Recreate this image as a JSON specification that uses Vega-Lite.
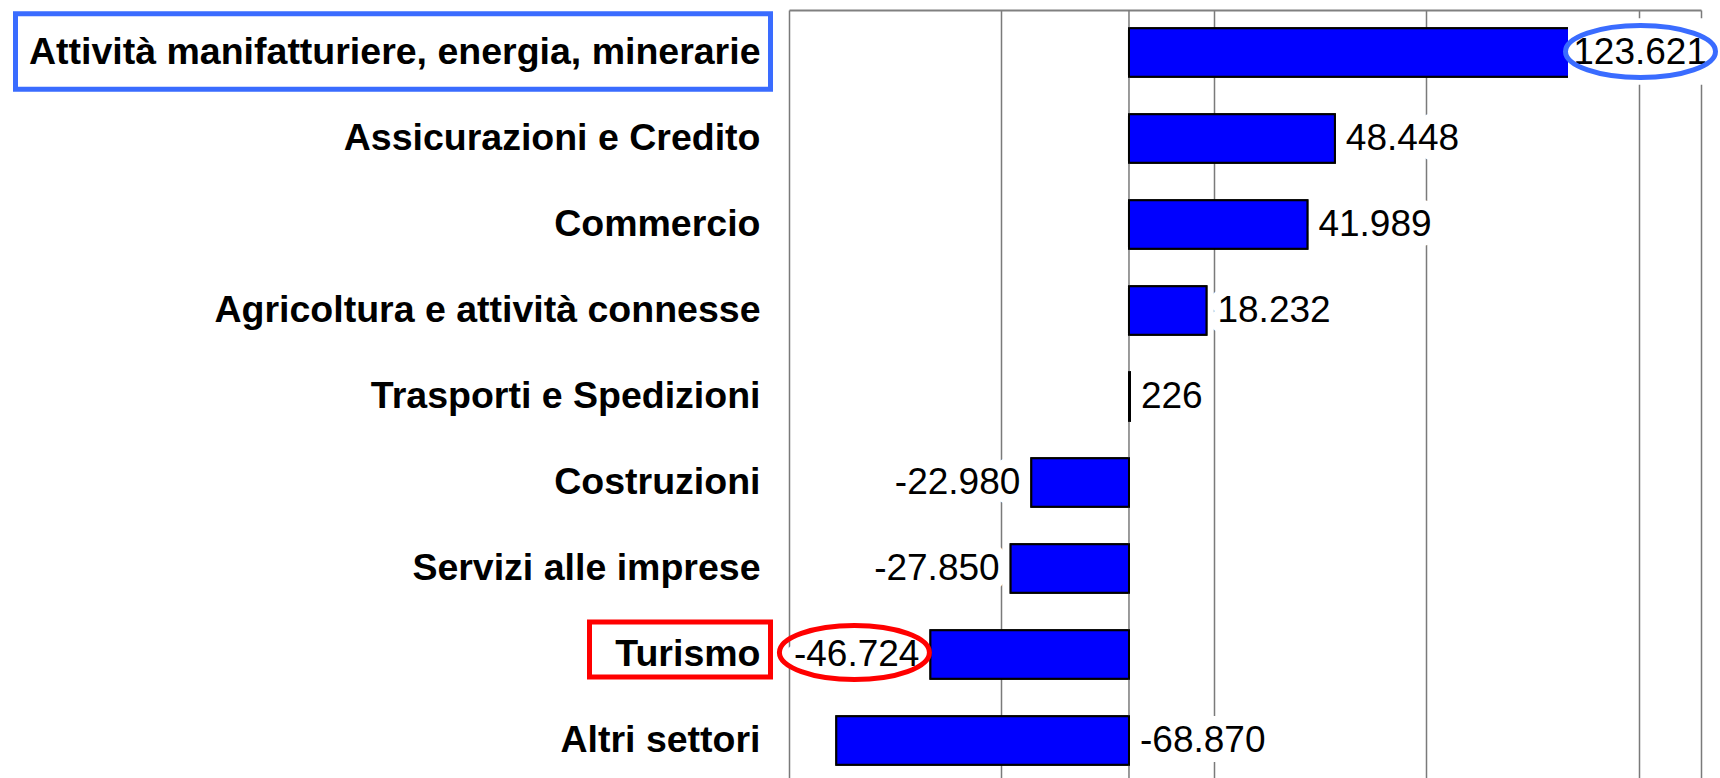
{
  "$schema": "https://vega.github.io/schema/vega-lite/v6.json",
  "width": 912,
  "height": 768,
  "autosize": {"type": "none"},
  "padding": {"left": 789, "top": 10, "right": 19, "bottom": 0},
  "background": "#ffffff",
  "config": {
    "view": {"stroke": null},
    "locale": {"number": {"decimal": ",", "thousands": ".", "grouping": [3], "currency": ["€", ""], "minus": "-"}}
  },
  "data": {
    "values": [
      {"settore": "Attività manifatturiere, energia, minerarie", "valore": 123621, "evidenza": "blu"},
      {"settore": "Assicurazioni e Credito", "valore": 48448, "evidenza": ""},
      {"settore": "Commercio", "valore": 41989, "evidenza": ""},
      {"settore": "Agricoltura e attività connesse", "valore": 18232, "evidenza": ""},
      {"settore": "Trasporti e Spedizioni", "valore": 226, "evidenza": ""},
      {"settore": "Costruzioni", "valore": -22980, "evidenza": ""},
      {"settore": "Servizi alle imprese", "valore": -27850, "evidenza": ""},
      {"settore": "Turismo", "valore": -46724, "evidenza": "rosso"},
      {"settore": "Altri settori", "valore": -68870, "evidenza": ""}
    ]
  },
  "layer": [
    {
      "mark": {"type": "bar", "color": "#0000ff", "stroke": "#000000", "strokeWidth": 2},
      "encoding": {
        "y": {
          "field": "settore", "type": "nominal", "sort": null,
          "scale": {"paddingInner": 0.435, "paddingOuter": 0.1826, "align": 0.58},
          "axis": {"title": null, "domain": false, "ticks": false, "grid": false,
            "labelFont": "Liberation Sans", "labelFontWeight": "bold", "labelFontSize": 37.5,
            "labelColor": "#000000", "labelPadding": 29, "labelLimit": 900}
        },
        "x": {
          "field": "valore", "type": "quantitative",
          "scale": {"domain": [-80000, 134600], "nice": false, "zero": false},
          "axis": {"orient": "top", "title": null, "labels": false, "ticks": false,
            "domain": true, "domainColor": "#808080", "domainWidth": 2,
            "grid": true, "gridColor": "#7a7a7a", "gridWidth": 1.5,
            "values": [-80000, -30000, 20000, 70000, 120000, 134600]}
        }
      }
    },
    {
      "data": {"values": [{}]},
      "mark": {"type": "rule", "color": "#7a7a7a", "strokeWidth": 1.5},
      "encoding": {"x": {"datum": 0, "type": "quantitative"}}
    },
    {
      "mark": {"type": "bar", "color": "#0000ff", "stroke": "#000000", "strokeWidth": 2},
      "encoding": {
        "y": {"field": "settore", "type": "nominal", "sort": null},
        "x": {"field": "valore", "type": "quantitative"}
      }
    },
    {
      "transform": [{"filter": "datum.valore >= 0 && datum.valore < 100000"}],
      "encoding": {
        "y": {"field": "settore", "type": "nominal", "sort": null},
        "x": {"field": "valore", "type": "quantitative"},
        "text": {"field": "valore", "type": "quantitative", "format": ",d"}
      },
      "layer": [
        {"mark": {"type": "text", "align": "left", "dx": 11, "baseline": "middle", "font": "Liberation Sans", "fontSize": 37, "color": "#ffffff", "stroke": "#ffffff", "strokeWidth": 20, "strokeJoin": "round"}},
        {"mark": {"type": "text", "align": "left", "dx": 11, "baseline": "middle", "font": "Liberation Sans", "fontSize": 37, "color": "#000000"}}
      ]
    },
    {
      "transform": [{"filter": "datum.valore >= 100000"}],
      "encoding": {
        "y": {"field": "settore", "type": "nominal", "sort": null},
        "x": {"value": "width"}
      },
      "layer": [
        {"mark": {"type": "point", "shape": "M-1,-0.49L1,-0.49L1,0.49L-1,0.49Z", "size": 18496, "filled": true, "color": "#ffffff", "strokeWidth": 0, "opacity": 1, "xOffset": -65, "yOffset": -1}},
        {"mark": {"type": "text", "align": "right", "dx": 6, "baseline": "middle", "font": "Liberation Sans", "fontSize": 37, "color": "#000000"},
         "encoding": {"text": {"field": "valore", "type": "quantitative", "format": ",d"}}}
      ]
    },
    {
      "transform": [{"filter": "datum.valore < 0 && datum.valore > -60000"}],
      "encoding": {
        "y": {"field": "settore", "type": "nominal", "sort": null},
        "x": {"field": "valore", "type": "quantitative"},
        "text": {"field": "valore", "type": "quantitative", "format": ",d"}
      },
      "layer": [
        {"mark": {"type": "text", "align": "right", "dx": -11, "baseline": "middle", "font": "Liberation Sans", "fontSize": 37, "color": "#ffffff", "stroke": "#ffffff", "strokeWidth": 20, "strokeJoin": "round"}},
        {"mark": {"type": "text", "align": "right", "dx": -11, "baseline": "middle", "font": "Liberation Sans", "fontSize": 37, "color": "#000000"}}
      ]
    },
    {
      "transform": [{"filter": "datum.valore <= -60000"}],
      "encoding": {
        "y": {"field": "settore", "type": "nominal", "sort": null},
        "x": {"datum": 0, "type": "quantitative"},
        "text": {"field": "valore", "type": "quantitative", "format": ",d"}
      },
      "layer": [
        {"mark": {"type": "text", "align": "left", "dx": 11, "baseline": "middle", "font": "Liberation Sans", "fontSize": 37, "color": "#ffffff", "stroke": "#ffffff", "strokeWidth": 20, "strokeJoin": "round"}},
        {"mark": {"type": "text", "align": "left", "dx": 11, "baseline": "middle", "font": "Liberation Sans", "fontSize": 37, "color": "#000000"}}
      ]
    },
    {
      "transform": [{"filter": "datum.evidenza == 'blu'"}],
      "mark": {"type": "point", "shape": "M-1,-0.1L1,-0.1L1,0.1L-1,0.1Z", "size": 570025, "filled": false, "stroke": "#3a6cff", "strokeWidth": 5, "opacity": 1, "xOffset": -396, "yOffset": -1},
      "encoding": {
        "y": {"field": "settore", "type": "nominal", "sort": null},
        "x": {"value": 0}
      }
    },
    {
      "transform": [{"filter": "datum.evidenza == 'rosso'"}],
      "mark": {"type": "point", "shape": "M-1,-0.304L1,-0.304L1,0.304L-1,0.304Z", "size": 32761, "filled": false, "stroke": "#ff0000", "strokeWidth": 5, "opacity": 1, "xOffset": -109, "yOffset": -5},
      "encoding": {
        "y": {"field": "settore", "type": "nominal", "sort": null},
        "x": {"value": 0}
      }
    },
    {
      "transform": [{"filter": "datum.evidenza == 'blu'"}],
      "mark": {"type": "point", "shape": "M1,0C1,0.1917,0.5523,0.347,0,0.347C-0.5523,0.347,-1,0.1917,-1,0C-1,-0.1917,-0.5523,-0.347,0,-0.347C0.5523,-0.347,1,-0.1917,1,0Z", "size": 22500, "filled": false, "stroke": "#3a6cff", "strokeWidth": 5, "opacity": 1, "xOffset": -60.5, "yOffset": -1},
      "encoding": {
        "y": {"field": "settore", "type": "nominal", "sort": null},
        "x": {"value": "width"}
      }
    },
    {
      "transform": [{"filter": "datum.evidenza == 'rosso'"}],
      "mark": {"type": "point", "shape": "M1,0C1,0.1988,0.5523,0.36,0,0.36C-0.5523,0.36,-1,0.1988,-1,0C-1,-0.1988,-0.5523,-0.36,0,-0.36C0.5523,-0.36,1,-0.1988,1,0Z", "size": 22500, "filled": false, "stroke": "#ff0000", "strokeWidth": 5, "opacity": 1, "xOffset": -76, "yOffset": -2},
      "encoding": {
        "y": {"field": "settore", "type": "nominal", "sort": null},
        "x": {"field": "valore", "type": "quantitative"}
      }
    }
  ]
}
